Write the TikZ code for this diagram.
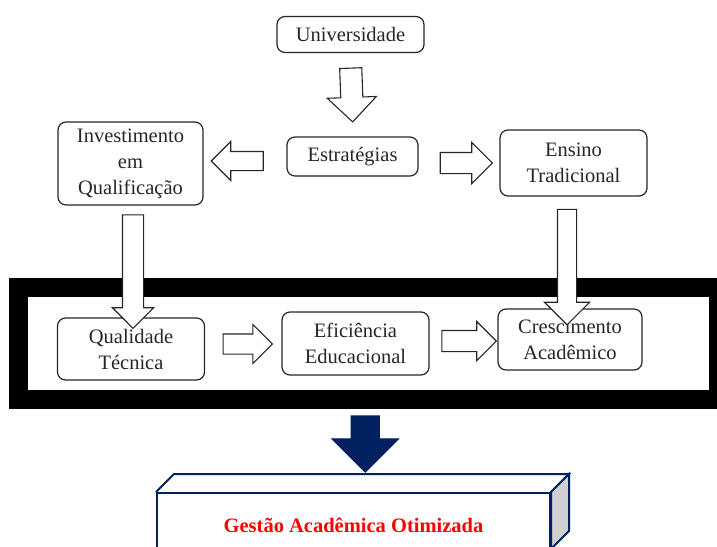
\documentclass[tikz,border=0pt]{standalone}
\usepackage{fontspec}
\setmainfont{Liberation Serif}
\usetikzlibrary{positioning,shapes.arrows,calc}
\definecolor{navy}{HTML}{002060}
\definecolor{sidegray}{HTML}{D0D0D0}
\newcommand{\blockarrow}[4][]{%
  \path let \p1=(#3), \p2=(#4), \n1={veclen(\x2-\x1,\y2-\y1)},
    \n2={atan2(\y2-\y1,\x2-\x1)} in
    node[barr, #1, minimum height=\n1, rotate=\n2] (#2) at ($(\p1)!0.5!(\p2)$) {};}

\begin{document}
\begin{tikzpicture}[
  x=1pt, y=-1pt,
  font=\fontsize{20.5}{26}\selectfont,
  box/.style={draw=black!85, rounded corners=8pt, line width=1.2pt, align=center,
              inner sep=2pt, fill=white, text=black!85},
  barr/.style={single arrow, draw=black!85, fill=white, line width=1.1pt,
               inner xsep=0pt, inner ysep=10pt, single arrow head extend=10pt},
  navyarr/.style={draw=navy, fill=navy, inner ysep=13.5pt, single arrow head extend=19pt},
  gline/.style={draw=navy, line width=2pt},
  band/.style={draw=black, line width=19pt, inner sep=0pt}]
\useasboundingbox (0,0) rectangle (717,546);
\clip (0,0) rectangle (717,546);

% upper level
\node[box, minimum width=147pt, minimum height=36pt] (univ) at (350.5,34.5) {Universidade};
\node[box, minimum width=131pt, minimum height=39pt] (estr) at (352.5,156.5) {Estratégias};
\node[box, minimum width=145pt, minimum height=83pt] (invest) at (130.5,163.5)
  {Investimento\\em\\Qualificação};
\node[box, minimum width=147pt, minimum height=66pt] (ensino) at (573.5,163)
  {Ensino\\Tradicional};
\blockarrow[inner ysep=10.5pt, single arrow head extend=13.5pt]{a1}{[yshift=-9.5pt]univ.south}{[yshift=20pt]estr.north}
\blockarrow[inner ysep=9pt]{a2}{268,161}{216,161}
\blockarrow{a3}{435,163}{487,163}

% framed chain
\node[band, minimum width=699.5pt, minimum height=112pt] (frame) at (368.25,343.5) {};
\node[box, minimum width=147pt, minimum height=62pt] (qual) at (131,349) {Qualidade\\Técnica};
\node[box, minimum width=147pt, minimum height=63pt] (efic) at (355.5,343.5)
  {Eficiência\\Educacional};
\node[box, minimum width=144pt, minimum height=61pt] (cresc) at (570,339.5)
  {Crescimento\\Acadêmico};
\blockarrow{a4}{[yshift=-4pt]invest.south -| 133,0}{133,323}
\blockarrow[inner ysep=9pt, single arrow head extend=13pt]{a5}{[yshift=-8pt]ensino.south -| 567,0}{567,320}
\blockarrow[inner ysep=9.5pt, single arrow head extend=9.5pt]{a6}{[xshift=13pt]qual.east |- 0,344}{[xshift=-14pt]efic.west |- 0,344}
\blockarrow[inner ysep=10pt, single arrow head extend=9pt]{a7}{[xshift=7pt]efic.east |- 0,341}{491,341}

% result
\node[draw=navy, line width=2pt, fill=white, minimum width=393pt, minimum height=64pt,
      text=red, font=\fontsize{20.5}{26}\selectfont\bfseries] (gestao) at (353.5,525)
  {Gestão Acadêmica Otimizada};
\draw[gline] (gestao.north west) -- ++(18,-18) -- ($(gestao.north east)+(18,-18)$)
  -- (gestao.north east);
\draw[gline, fill=sidegray] (gestao.north east) -- ++(18,-18) -- ++(0,57) -- ++(-18,18) -- cycle;
\blockarrow[navyarr]{a8}{[xshift=-3pt]frame.south}{[xshift=-3pt]frame.south |- 0,465}
\end{tikzpicture}
\end{document}
